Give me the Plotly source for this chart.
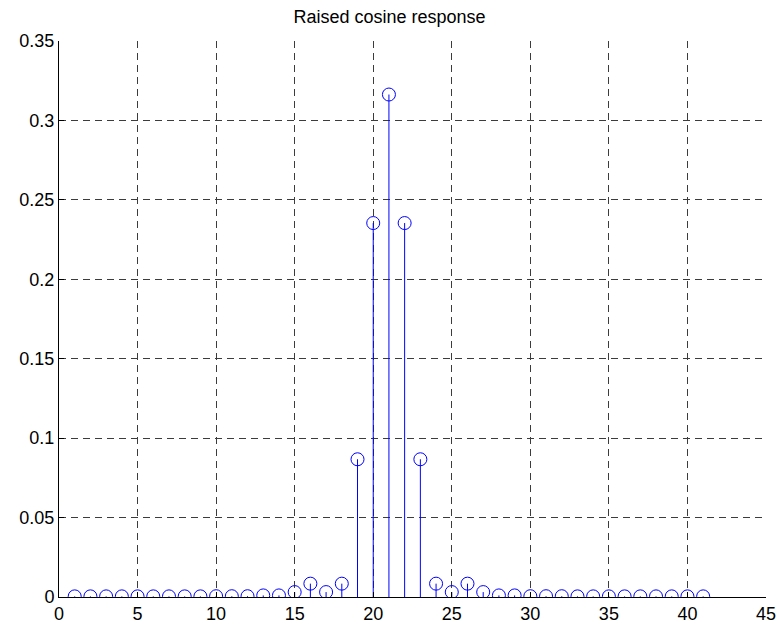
import plotly.graph_objects as go

# Filter taps of the raised cosine impulse response
n = list(range(1, 42))
h = [0.0004, 0.0004, 0.0004, 0.0004, 0.0004, 0.0004, 0.0004, 0.0004, 0.0004, 0.0005,
     0.0005, 0.0005, 0.001, 0.001, 0.0031, 0.0084, 0.0031, 0.0084, 0.0867, 0.2354,
     0.3163, 0.2354, 0.0867, 0.0084, 0.0031, 0.0084, 0.0031, 0.001, 0.001, 0.0005,
     0.0005, 0.0005, 0.0004, 0.0004, 0.0004, 0.0004, 0.0004, 0.0004, 0.0004, 0.0004,
     0.0004]

x_ticks = [0, 5, 10, 15, 20, 25, 30, 35, 40, 45]
y_ticks = [0, 0.05, 0.1, 0.15, 0.2, 0.25, 0.3, 0.35]
y_tick_labels = ["0", "0.05", "0.1", "0.15", "0.2", "0.25", "0.3", "0.35"]

BLUE = "#0000ff"

# stem lines: one vertical segment per tap, separated by gaps
sx, sy = [], []
for xi, yi in zip(n, h):
    sx += [xi, xi, None]
    sy += [0, yi, None]

fig = go.Figure()
fig.add_trace(go.Scatter(x=sx, y=sy, mode="lines",
                         line=dict(color=BLUE, width=1), hoverinfo="skip",
                         showlegend=False))
fig.add_trace(go.Scatter(x=n, y=h, mode="markers",
                         marker=dict(symbol="circle-open", size=13,
                                     color=BLUE, line=dict(width=1, color=BLUE)),
                         showlegend=False))

font = dict(family="Liberation Sans, Arial, sans-serif", size=18, color="black")

fig.update_layout(
    width=779, height=626,
    margin=dict(l=58.5, r=13, t=41, b=29, autoexpand=False),
    paper_bgcolor="white", plot_bgcolor="white",
    font=font,
    title=dict(text="Raised cosine response", x=0.5, xanchor="center",
               y=1 - 17 / 626, yanchor="middle", font=dict(size=18)),
)
fig.update_xaxes(
    range=[0, 45], tickvals=x_ticks, ticks="inside", ticklen=5,
    tickcolor="black", showline=True, linecolor="black", linewidth=1,
    showgrid=True, gridcolor="#3c3c3c", griddash="7px,5px", gridwidth=1,
    zeroline=False, tickfont=font, automargin=False,
)
fig.update_yaxes(
    range=[0, 0.35], tickvals=y_ticks, ticktext=y_tick_labels, ticks="inside",
    ticklen=5, tickcolor="black", showline=True, linecolor="black", linewidth=1,
    showgrid=True, gridcolor="#3c3c3c", griddash="7px,5px", gridwidth=1,
    zeroline=False, tickfont=font, automargin=False,
)

fig.write_html("out.html")
